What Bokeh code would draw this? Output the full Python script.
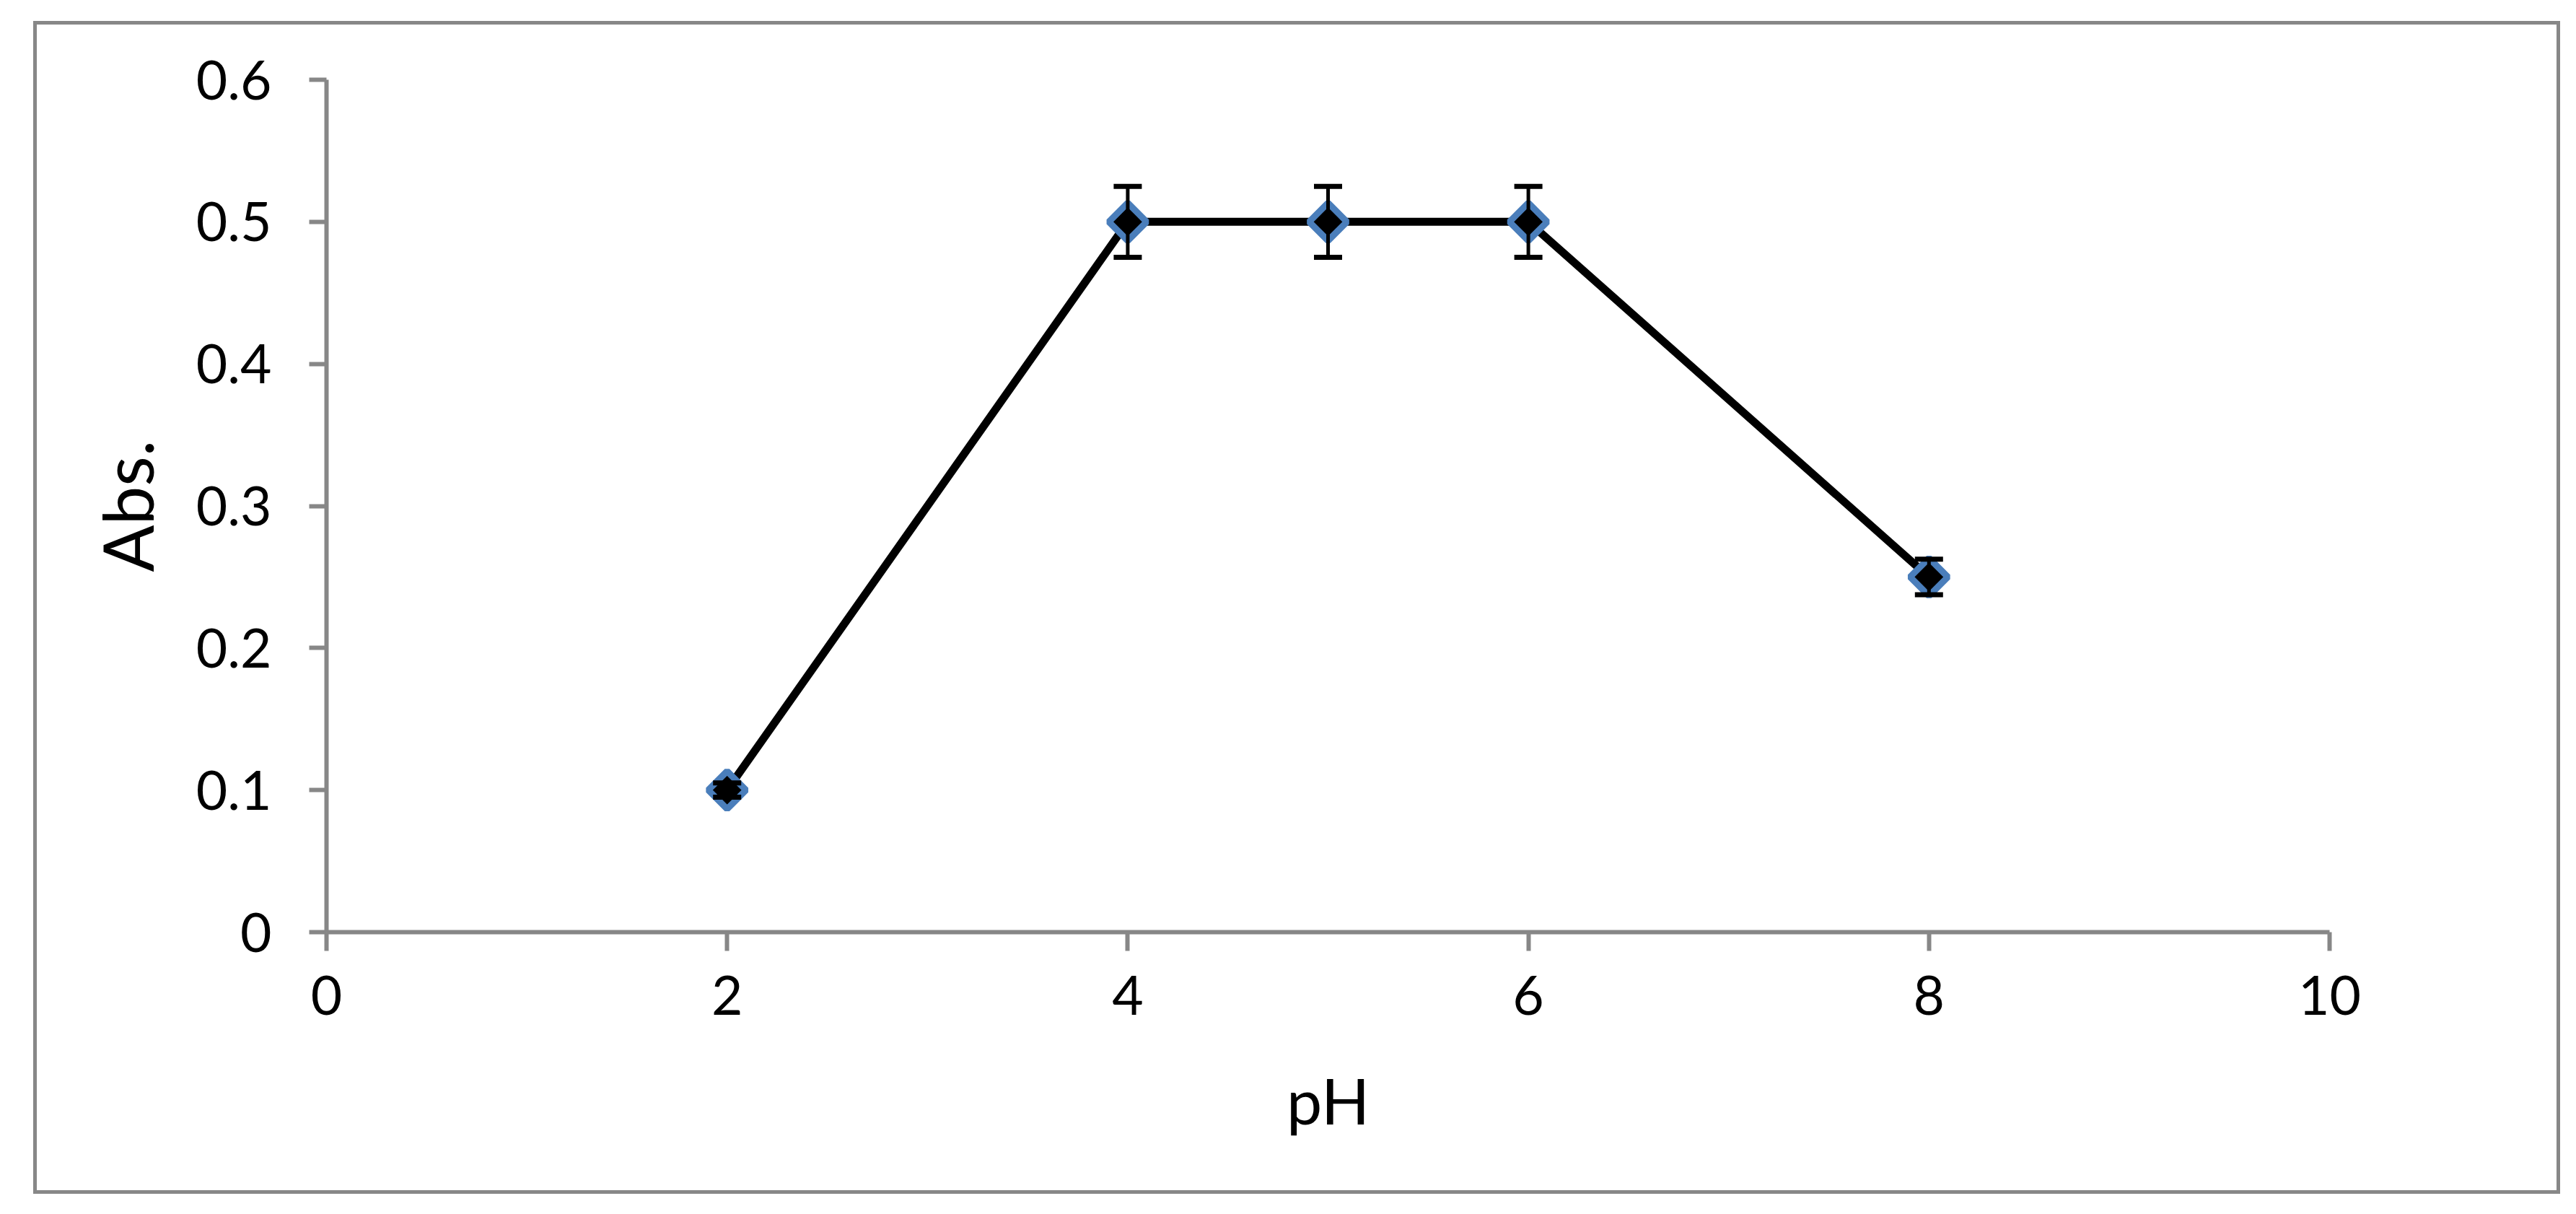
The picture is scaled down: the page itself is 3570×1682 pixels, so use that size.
import math
from bokeh.plotting import figure
from bokeh.models import Range1d, FixedTicker, Whisker, ColumnDataSource, TeeHead
from bokeh.embed import file_html
from bokeh.resources import INLINE

# ---- data ----
ph = [2, 4, 5, 6, 8]
absorbance = [0.1, 0.5, 0.5, 0.5, 0.25]
err = [0.005, 0.025, 0.025, 0.025, 0.0125]

x_ticks = [0, 2, 4, 6, 8, 10]
y_ticks = [0, 0.1, 0.2, 0.3, 0.4, 0.5, 0.6]
y_tick_labels = ["0", "0.1", "0.2", "0.3", "0.4", "0.5", "0.6"]

x_title = "pH"
y_title = "Abs."

FONT = "Lato"
AXIS_GRAY = "#878787"

src = ColumnDataSource(dict(
    x=ph, y=absorbance,
    lower=[a - e for a, e in zip(absorbance, err)],
    upper=[a + e for a, e in zip(absorbance, err)],
))

p = figure(
    width=3502, height=1625,
    x_range=Range1d(0, 10), y_range=Range1d(0, 0.6),
    output_backend="svg", toolbar_location=None,
    min_border_left=401, min_border_right=325,
    min_border_top=76, min_border_bottom=368,
)
p.styles = {"border": "5px solid #878787", "margin-left": "46px", "margin-top": "29px"}

p.background_fill_color = "white"
p.border_fill_color = "white"
p.outline_line_color = None
p.grid.visible = False

for ax in (p.xaxis[0], p.yaxis[0]):
    ax.axis_line_color = AXIS_GRAY
    ax.axis_line_width = 6
    ax.major_tick_line_color = AXIS_GRAY
    ax.major_tick_line_width = 6
    ax.major_tick_in = 0
    ax.minor_tick_line_color = None
    ax.major_label_text_font = FONT
    ax.major_label_text_font_size = "75px"
    ax.major_label_text_color = "black"
    ax.axis_label_text_font = FONT
    ax.axis_label_text_font_style = "normal"
    ax.axis_label_text_color = "black"

p.xaxis[0].ticker = FixedTicker(ticks=x_ticks)
p.xaxis[0].major_tick_out = 26
p.xaxis[0].major_label_standoff = 34
p.xaxis[0].axis_label = x_title
p.xaxis[0].axis_label_text_font_size = "88px"
p.xaxis[0].axis_label_standoff = 62

p.yaxis[0].ticker = FixedTicker(ticks=y_ticks)
p.yaxis[0].major_label_overrides = {t: l for t, l in zip(y_ticks, y_tick_labels)}
p.yaxis[0].major_tick_out = 24
p.yaxis[0].major_label_standoff = 52
p.yaxis[0].axis_label = y_title
p.yaxis[0].axis_label_text_font_size = "96px"
p.yaxis[0].axis_label_standoff = 36

# connecting line
p.line("x", "y", source=src, line_color="black", line_width=11)

# error bars
w = Whisker(
    source=src, base="x", upper="upper", lower="lower",
    line_color="black", line_width=5, level="glyph",
    upper_head=TeeHead(size=39, line_color="black", line_width=7),
    lower_head=TeeHead(size=39, line_color="black", line_width=7),
)
p.add_layout(w)

# markers: diamonds (rotated squares), black fill, blue outline
p.scatter("x", "y", source=src, marker="square", angle=math.pi / 4,
          size=37, fill_color="black", line_color="#4A7EBB", line_width=9)

open("out.html", "w").write(file_html(p, INLINE))
